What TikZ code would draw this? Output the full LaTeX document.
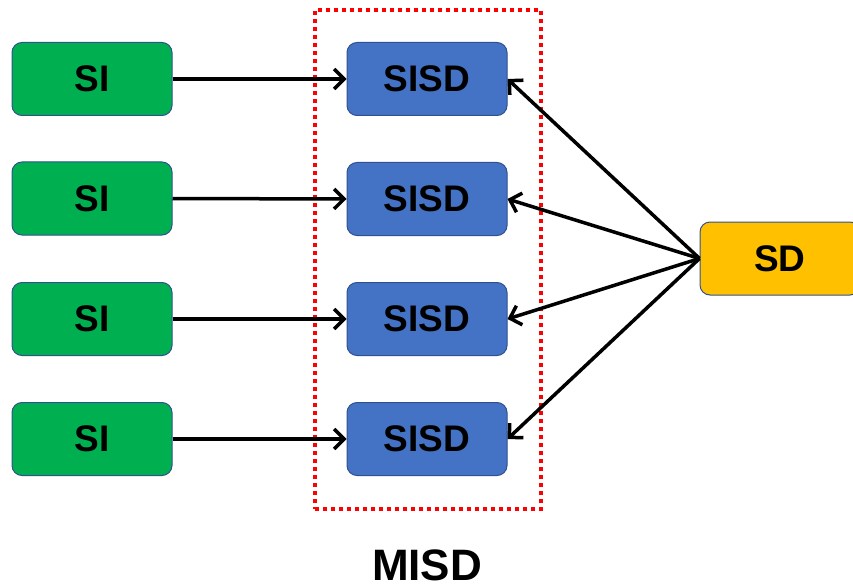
\documentclass[tikz,border=0pt]{standalone}
\usepackage{fontspec}
\setmainfont{Liberation Sans}
\usetikzlibrary{arrows.meta}
\definecolor{sigreen}{HTML}{00B050}
\definecolor{sdblue}{HTML}{4472C4}
\definecolor{sdorange}{HTML}{FFC000}
\definecolor{edgeblue}{HTML}{2F528F}
\begin{document}
\begin{tikzpicture}[x=1pt,y=-1pt,
  box/.style={draw=edgeblue,line width=1pt,rounded corners=10pt,minimum width=160pt,minimum height=73pt,inner sep=0pt,font=\bfseries\fontsize{37}{40}\selectfont},
  sibox/.style={box,fill=sigreen},
  sisdbox/.style={box,fill=sdblue},
  sdbox/.style={box,fill=sdorange},
  conn/.style={line width=3.5pt,-{Straight Barb[length=10pt,width=20pt,line width=3.5pt]}}]
\useasboundingbox (0,0) rectangle (853,588);
\node[sibox] (si1) at (92,79) {SI};
\node[sibox] (si2) at (92,198.5) {SI};
\node[sibox] (si3) at (92,319) {SI};
\node[sibox] (si4) at (92,439) {SI};
\node[sisdbox] (sisd1) at (427,79) {SISD};
\node[sisdbox] (sisd2) at (427,199) {SISD};
\node[sisdbox] (sisd3) at (427,319) {SISD};
\node[sisdbox] (sisd4) at (427,439) {SISD};
\node[sdbox,minimum width=160pt] (sd) at (780,258.5) {SD};
\node[draw=red,line width=4pt,dash pattern=on 4pt off 4pt,minimum width=226pt,minimum height=499pt,inner sep=0pt] (misdbox) at (428,259.5) {};
\node[font=\bfseries\fontsize{44}{48}\selectfont,anchor=base,inner sep=0pt,text depth=0pt] (misd) at (427,580) {MISD};
\draw[conn] (si1.east) -- (sisd1.west);
\draw[conn] (si2.east) -- (sisd2.west);
\draw[conn] (si3.east) -- (sisd3.west);
\draw[conn] (si4.east) -- (sisd4.west);
\draw[conn] (sd.west) -- (sisd1.east);
\draw[conn] (sd.west) -- (sisd2.east);
\draw[conn] (sd.west) -- (sisd3.east);
\draw[conn] (sd.west) -- (sisd4.east);
\end{tikzpicture}
\end{document}
